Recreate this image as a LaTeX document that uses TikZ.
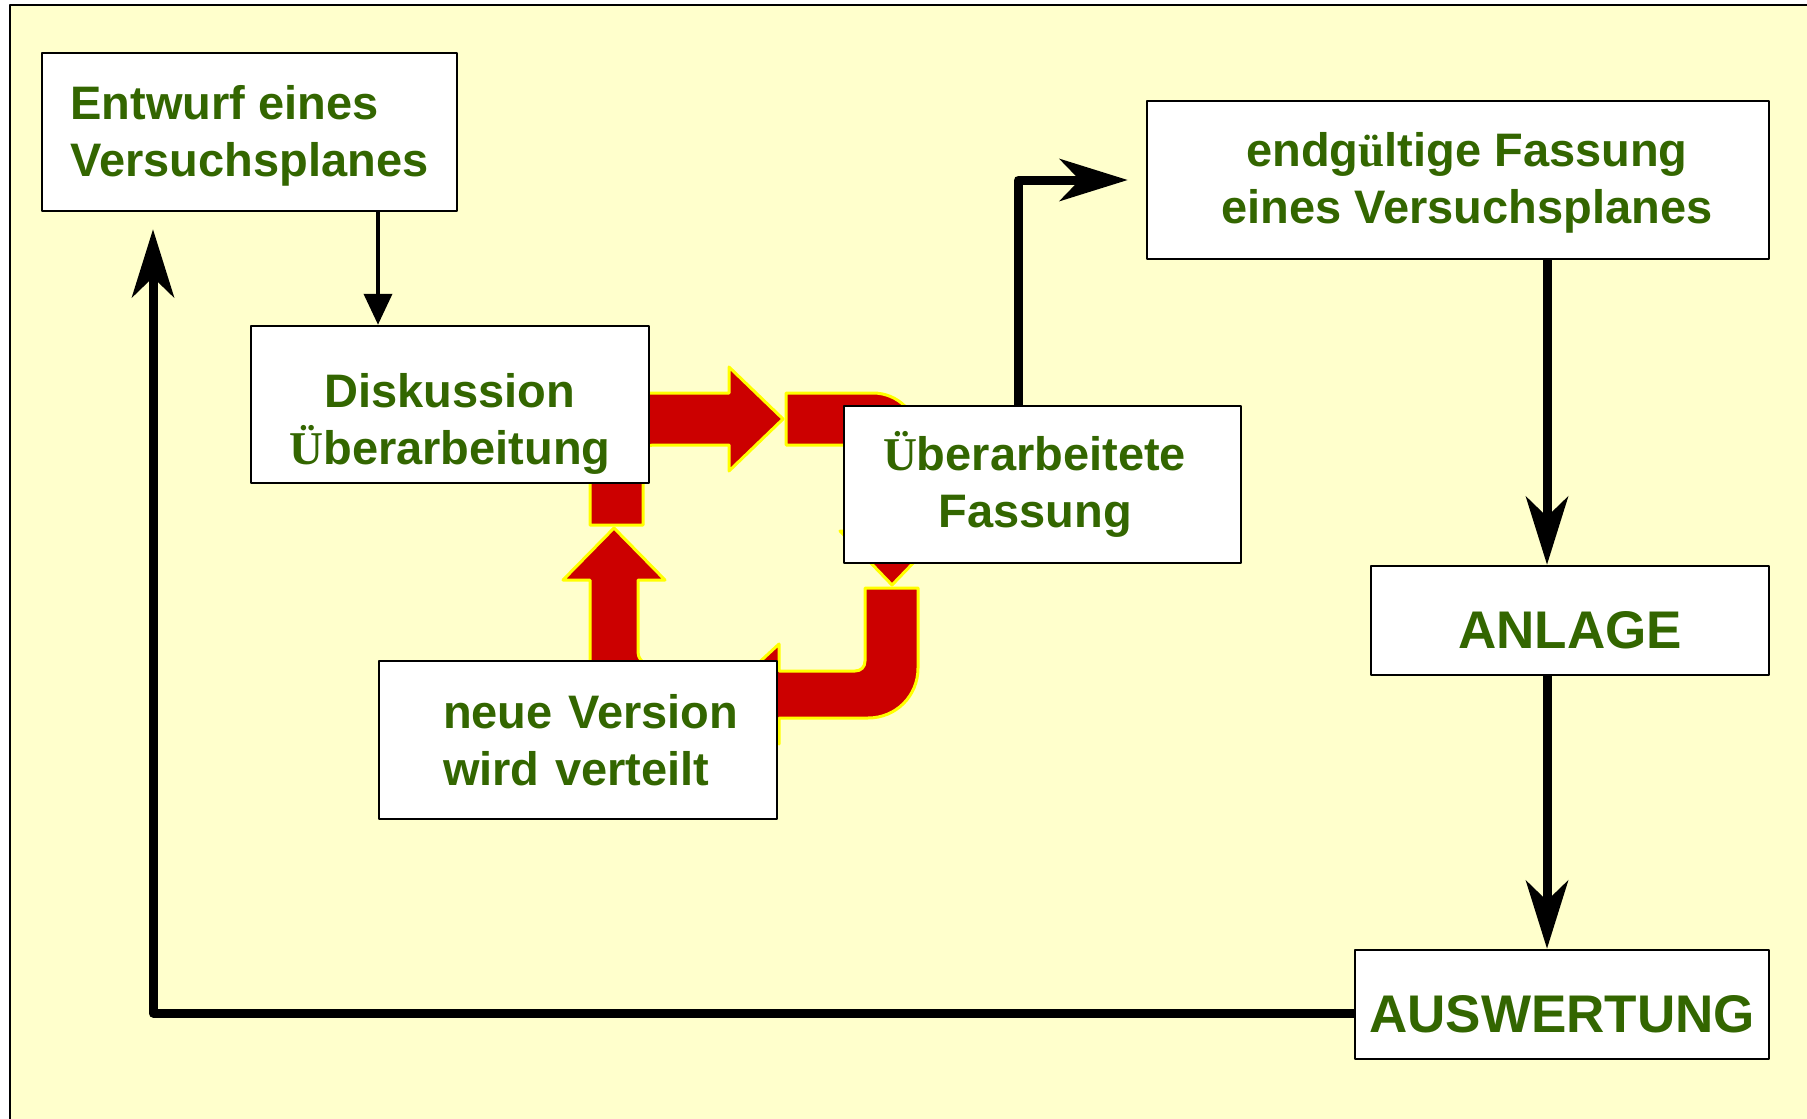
\documentclass[tikz,border=0pt]{standalone}
\usepackage{fontspec}
\setmainfont{Liberation Sans}
\newfontfamily\umlfont{Liberation Serif}
\usetikzlibrary{arrows.meta}
\definecolor{gelb}{HTML}{FFFFCC}
\definecolor{gruen}{HTML}{336600}
\definecolor{rot}{HTML}{CC0000}
\definecolor{rand}{HTML}{FFFF00}
\newcommand{\Uml}{{\umlfont\bfseries Ü}}
\newcommand{\uml}{{\umlfont\bfseries ü}}
\begin{document}
\begin{tikzpicture}[x=1pt, y=-1pt, line join=round,
	kasten/.style={draw, fill=white, line width=2.5pt, text=gruen, inner sep=0pt, align=center,
		font=\fontsize{47}{57}\selectfont\bfseries},
	gross/.style={font=\fontsize{53}{60}\selectfont\bfseries, text height=57pt},
	block/.style={fill=rot, draw=rand, line width=3pt},
	dick/.style={line width=9pt, -{Stealth[length=68pt,width=42pt,inset=20pt]}},
	duenn/.style={line width=4pt, -{Triangle[length=31pt,width=28pt]}}]
	\clip (0,0) rectangle (1807,1119);
	\fill[white] (0,0) rectangle (1807,1119);
	\filldraw[fill=gelb, draw=black, line width=2pt] (10,5) rectangle (1830,1140);
	% rote Blockpfeile (hinter den Kaesten)
	\filldraw[block] (590,525) -- (590,433) .. controls (590,411) and (608,393) .. (630,393) -- (729,393) -- (729,367) -- (783,419)
		-- (729,471) -- (729,445) -- (653,445) .. controls (647,445) and (643,449) .. (643,455) -- (643,525) -- cycle;
	\filldraw[block] (786,393) -- (873,393) .. controls (898,393) and (918,413) .. (918,438) -- (918,531) -- (944,531) -- (892,585)
		-- (840,531) -- (866,531) -- (866,455) .. controls (866,449) and (862,445) .. (856,445) -- (786,445) -- cycle;
	\filldraw[block] (865,588) -- (918,588) -- (918,668) .. controls (918,696) and (896,718) .. (868,718) -- (779,718) -- (779,744)
		-- (725,694) -- (779,644) -- (779,671) -- (855,671) .. controls (861,671) and (865,667) .. (865,661) -- cycle;
	\filldraw[block] (590,720) -- (590,580) -- (563,580) -- (614,528) -- (665,580) -- (638,580) -- (638,652)
		.. controls (638,658) and (642,664) .. (650,664) -- (700,664) -- (700,720) -- cycle;
	% Kaesten
	\node[kasten, align=left, minimum width=415pt, minimum height=158pt] (entwurf) at (249.5,132) {\rule{0pt}{42pt}Entwurf eines\\Versuchsplanes};
	\node[kasten, minimum width=398pt, minimum height=157pt] (disk) at (450,404.5) {\rule{0pt}{72pt}Diskussion\\\Uml berarbeitung};
	\node[kasten, minimum width=397pt, minimum height=157pt] (ueber) at (1042.5,484.5) {\Uml berarbeitete\hspace*{16pt}\\Fassung\hspace*{14pt}};
	\node[kasten, align=left, text width=270pt, minimum width=398pt, minimum height=158pt] (neu) at (578,740) {\mbox{neue Version}\\\mbox{wird verteilt}};
	\node[kasten, minimum width=622pt, minimum height=158pt] (endg) at (1458,180) {\rule{0pt}{40pt}\hspace*{18pt}endg\uml ltige Fassung\\\hspace*{18pt}eines Versuchsplanes};
	\node[kasten, gross, minimum width=398pt, minimum height=109pt] (anlage) at (1570,620.5) {ANLAGE};
	\node[kasten, gross, minimum width=414pt, minimum height=109pt] (ausw) at (1562,1004.5) {AUSWERTUNG};
	% Verbindungen
	\coordinate (s1) at (378,0);
	\coordinate (s2) at (1547,0);
	\draw[duenn] (entwurf.south -| s1) -- (disk.north -| s1);
	\draw[dick] (endg.south -| s2) -- (anlage.north -| s2);
	\draw[dick] (anlage.south -| s2) -- (ausw.north -| s2);
	\draw[dick, shorten >=17pt] ([yshift=-8.5pt]ausw.west) -| ([xshift=-96.5pt]entwurf.south);
	\draw[dick, shorten >=18pt] ([xshift=-24.5pt]ueber.north) |- (endg.west);
\end{tikzpicture}
\end{document}
